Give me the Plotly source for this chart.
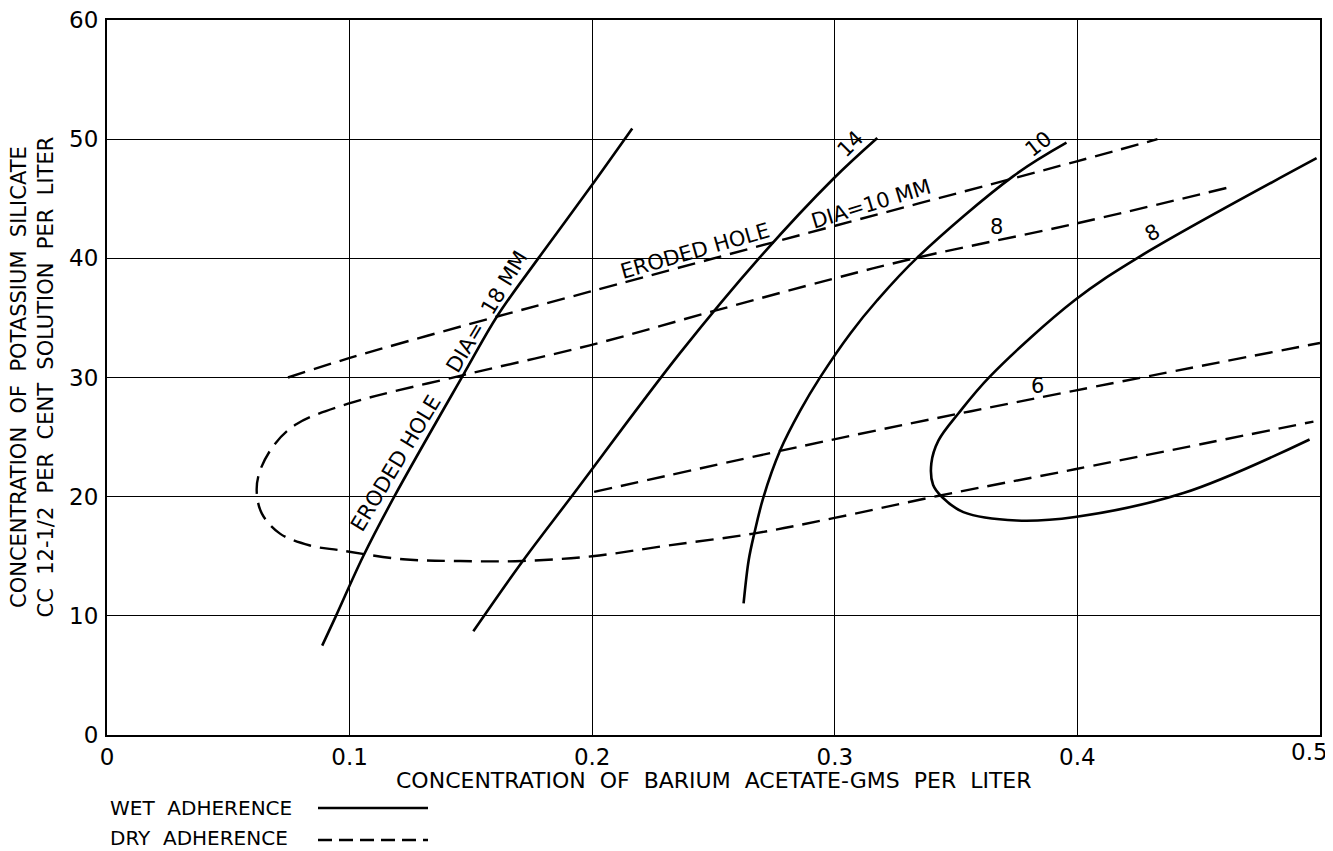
import plotly.graph_objects as go

# ---- data ----
wet_18_x = [0.0887, 0.0944, 0.1056, 0.1184, 0.1468, 0.161, 0.178, 0.199, 0.2165]
wet_18_y = [7.5, 10.0, 15.0, 20.0, 30.2, 35.2, 40.06, 45.9, 50.9]

wet_14_x = [0.151, 0.171, 0.1918, 0.236, 0.269, 0.2995, 0.3175]
wet_14_y = [8.7, 14.5, 20.1, 32.0, 40.06, 46.7, 50.1]

wet_10_x = [0.2624, 0.2645, 0.2668, 0.2706, 0.2775, 0.2858, 0.294, 0.3064, 0.3174, 0.334, 0.3736, 0.3955]
wet_10_y = [11.04, 14.67, 16.9, 19.97, 23.89, 27.24, 30.03, 33.7, 36.46, 40.06, 46.9, 49.7]

wet_8_x = [0.4957, 0.4437, 0.399, 0.375, 0.353, 0.3443, 0.3405, 0.3398, 0.3427, 0.351, 0.364, 0.399, 0.425, 0.4986]
wet_8_y = [24.8, 20.3, 18.3, 18.0, 18.7, 19.95, 21.0, 22.8, 24.7, 27.0, 30.1, 36.5, 40.06, 48.4]

dry_10_x = [0.0746, 0.0994, 0.1497, 0.199, 0.2995, 0.399, 0.433]
dry_10_y = [30.0, 31.6, 34.5, 37.2, 42.7, 48.1, 50.0]

dry_8_x = [0.4614, 0.399, 0.334, 0.2995, 0.2487, 0.199, 0.1468, 0.0994, 0.0782, 0.0693, 0.0631,
           0.0617, 0.0638, 0.0713, 0.0837, 0.0961, 0.122, 0.1456, 0.171, 0.2, 0.231, 0.2664,
           0.2994, 0.3435, 0.399, 0.4973]
dry_8_y = [45.9, 42.9, 40.06, 38.3, 35.5, 32.7, 30.2, 27.8, 26.1, 24.45, 22.2,
           20.5, 18.6, 16.9, 15.9, 15.5, 14.75, 14.6, 14.6, 15.0, 15.9, 16.9,
           18.2, 20.1, 22.3, 26.3]

dry_6_x = [0.2008, 0.3064, 0.399, 0.5]
dry_6_y = [20.4, 25.1, 28.9, 32.9]

x_ticks = [0, 0.1, 0.2, 0.3, 0.4, 0.5]
x_tick_text = ["0", "0.1", "0.2", "0.3", "0.4", ""]   # last label drawn right-aligned below
x_last_label = "0.5"
y_ticks = [0, 10, 20, 30, 40, 50, 60]
y_tick_text = ["0", "10", "20", "30", "40", "50", "60"]

# curve labels: text, x, y, angle
curve_labels = [
    ("ERODED HOLE", 0.1192, 22.8, -59),
    ("DIA=  18 MM", 0.1567, 35.46, -59),
    ("ERODED HOLE", 0.2425, 40.65, -16),
    ("DIA=10 MM", 0.315, 44.6, -17),
    ("14", 0.3064, 49.6, -45),
    ("10", 0.384, 49.6, -38),
    ("8", 0.3666, 42.6, 0),
    ("8", 0.431, 42.1, -29),
    ("6", 0.3835, 29.3, 0),
]

FONT = "DejaVu Sans"
DASH = "18px,9px"

# page body adds ~8px offset, so figure is sized to fit
W, H = 1325, 843
ML, MR, MT, MB = 99, 13, 12, 116
PW = W - ML - MR
PH = H - MT - MB


def px(xp):
    return (xp - 107) / PW


def py(yp):
    return (735 - yp) / PH


fig = go.Figure()

for xs, ys in [(wet_18_x, wet_18_y), (wet_14_x, wet_14_y), (wet_10_x, wet_10_y), (wet_8_x, wet_8_y)]:
    fig.add_trace(go.Scatter(x=xs, y=ys, mode="lines", showlegend=False, hoverinfo="skip",
                             line=dict(color="black", width=2.6, shape="spline", smoothing=1.0)))

for xs, ys in [(dry_10_x, dry_10_y), (dry_8_x, dry_8_y), (dry_6_x, dry_6_y)]:
    fig.add_trace(go.Scatter(x=xs, y=ys, mode="lines", showlegend=False, hoverinfo="skip",
                             line=dict(color="black", width=2.4, dash=DASH, shape="spline", smoothing=1.0)))

annotations = []
for text, ax, ay, ang in curve_labels:
    annotations.append(dict(x=ax, y=ay, xref="x", yref="y", text=text, showarrow=False,
                            textangle=ang, font=dict(family=FONT, size=21, color="black")))

# last x tick label, kept inside the page
annotations.append(dict(x=x_ticks[-1], y=py(752), xref="x", yref="paper", text=x_last_label,
                        showarrow=False, xanchor="right", yanchor="middle", xshift=10,
                        font=dict(family=FONT, size=23, color="black")))

# axis titles
annotations.append(dict(x=px(714), y=py(780), xref="paper", yref="paper",
                        text="CONCENTRATION  OF  BARIUM  ACETATE-GMS  PER  LITER", showarrow=False,
                        xanchor="center", yanchor="middle",
                        font=dict(family=FONT, size=22, color="black")))
annotations.append(dict(x=px(32), y=0.5, xref="paper", yref="paper",
                        text="CONCENTRATION  OF  POTASSIUM  SILICATE<br>CC  12-1/2  PER  CENT  SOLUTION  PER  LITER",
                        showarrow=False, textangle=-90, xanchor="center", yanchor="middle",
                        font=dict(family=FONT, size=21, color="black")))

# legend (text + sample lines)
annotations.append(dict(x=px(108), y=py(808), xref="paper", yref="paper",
                        text="WET  ADHERENCE", showarrow=False, xanchor="left", yanchor="middle",
                        font=dict(family=FONT, size=20, color="black")))
annotations.append(dict(x=px(108), y=py(838), xref="paper", yref="paper",
                        text="DRY  ADHERENCE", showarrow=False, xanchor="left", yanchor="middle",
                        font=dict(family=FONT, size=20, color="black")))

shapes = [
    dict(type="line", xref="paper", yref="paper", x0=px(318), x1=px(428),
         y0=py(808), y1=py(808), line=dict(color="black", width=2.4)),
    dict(type="line", xref="paper", yref="paper", x0=px(318), x1=px(428),
         y0=py(840), y1=py(840), line=dict(color="black", width=2.4, dash="14px,7px")),
]

fig.update_layout(
    width=W, height=H,
    margin=dict(l=ML, r=MR, t=MT, b=MB, autoexpand=False),
    plot_bgcolor="white", paper_bgcolor="white",
    annotations=annotations, shapes=shapes,
    showlegend=False,
)
fig.update_xaxes(range=[0, 0.5], tickvals=x_ticks, ticktext=x_tick_text,
                 showgrid=True, gridcolor="black", gridwidth=1.3, zeroline=False,
                 showline=True, linecolor="black", linewidth=2, mirror=True,
                 ticks="", ticklabelstandoff=0, automargin=False, ticklabeloverflow="allow",
                 tickfont=dict(family=FONT, size=23, color="black"))
fig.update_yaxes(range=[0, 60], tickvals=y_ticks, ticktext=y_tick_text,
                 showgrid=True, gridcolor="black", gridwidth=1.3, zeroline=False,
                 showline=True, linecolor="black", linewidth=2, mirror=True,
                 ticks="", ticklabelstandoff=2, automargin=False, ticklabeloverflow="allow",
                 tickfont=dict(family=FONT, size=23, color="black"))

fig.write_html("out.html")
